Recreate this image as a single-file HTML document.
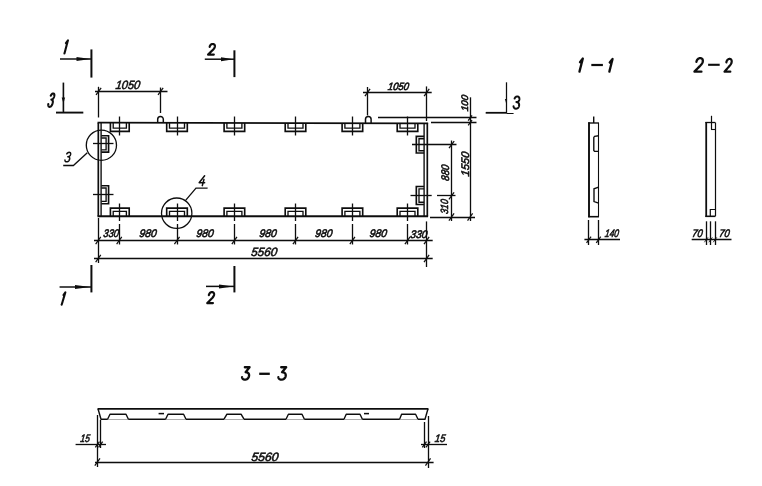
<!DOCTYPE html>
<html><head><meta charset="utf-8"><title>drawing</title>
<style>
html,body{margin:0;padding:0;background:#fff;}
body{width:762px;height:486px;overflow:hidden;}
svg{display:block;}
text{font-family:"Liberation Sans",sans-serif;fill:#111;stroke:#111;stroke-width:0.6px;}
</style></head><body>
<svg width="762" height="486" viewBox="0 0 762 486" font-family="Liberation Sans, sans-serif">
<rect x="0" y="0" width="762" height="486" fill="#fff"/>
<defs><filter id="sf" x="-2%" y="-2%" width="104%" height="104%"><feGaussianBlur stdDeviation="0.32"/></filter></defs>
<g stroke-linecap="butt" filter="url(#sf)">
<line x1="97.5" y1="122.60000000000001" x2="428.1" y2="123.30000000000001" stroke="#111" stroke-width="1.7" />
<line x1="97.5" y1="216.3" x2="428.1" y2="216.3" stroke="#111" stroke-width="1.9" />
<line x1="98.3" y1="122.9" x2="98.3" y2="216.3" stroke="#111" stroke-width="1.7" />
<line x1="101.1" y1="122.9" x2="101.1" y2="216.3" stroke="#111" stroke-width="1.4" />
<line x1="427.3" y1="122.9" x2="427.3" y2="216.3" stroke="#111" stroke-width="1.7" />
<line x1="424.1" y1="122.9" x2="424.1" y2="216.3" stroke="#111" stroke-width="1.4" />
<path d="M110.4,122.9 V131.3 H129.2 V122.9" stroke="#111" stroke-width="1.65" fill="none" />
<path d="M113.2,122.9 V128.1 H126.4 V122.9" stroke="#111" stroke-width="1.35" fill="none" />
<line x1="119.5" y1="116.5" x2="119.5" y2="135.5" stroke="#111" stroke-width="1.3" />
<path d="M110.4,216.3 V208.10000000000002 H129.2 V216.3" stroke="#111" stroke-width="1.65" fill="none" />
<path d="M113.2,216.3 V211.3 H126.4 V216.3" stroke="#111" stroke-width="1.35" fill="none" />
<line x1="119.5" y1="203.5" x2="119.5" y2="221" stroke="#111" stroke-width="1.3" />
<line x1="119.5" y1="224" x2="119.5" y2="244.5" stroke="#111" stroke-width="1.3" />
<path d="M166.7,122.9 V131.3 H187.3 V122.9" stroke="#111" stroke-width="1.65" fill="none" />
<path d="M169.5,122.9 V128.1 H184.5 V122.9" stroke="#111" stroke-width="1.35" fill="none" />
<line x1="177.5" y1="116.5" x2="177.5" y2="135.5" stroke="#111" stroke-width="1.3" />
<path d="M166.7,216.3 V208.10000000000002 H187.3 V216.3" stroke="#111" stroke-width="1.65" fill="none" />
<path d="M169.5,216.3 V211.3 H184.5 V216.3" stroke="#111" stroke-width="1.35" fill="none" />
<line x1="177.5" y1="203.5" x2="177.5" y2="221" stroke="#111" stroke-width="1.3" />
<line x1="177.5" y1="224" x2="177.5" y2="244.5" stroke="#111" stroke-width="1.3" />
<path d="M224.1,122.9 V131.3 H244.7 V122.9" stroke="#111" stroke-width="1.65" fill="none" />
<path d="M226.9,122.9 V128.1 H241.9 V122.9" stroke="#111" stroke-width="1.35" fill="none" />
<line x1="234.5" y1="116.5" x2="234.5" y2="135.5" stroke="#111" stroke-width="1.3" />
<path d="M224.1,216.3 V208.10000000000002 H244.7 V216.3" stroke="#111" stroke-width="1.65" fill="none" />
<path d="M226.9,216.3 V211.3 H241.9 V216.3" stroke="#111" stroke-width="1.35" fill="none" />
<line x1="234.5" y1="203.5" x2="234.5" y2="221" stroke="#111" stroke-width="1.3" />
<line x1="234.5" y1="224" x2="234.5" y2="244.5" stroke="#111" stroke-width="1.3" />
<path d="M285.2,122.9 V131.3 H305.8 V122.9" stroke="#111" stroke-width="1.65" fill="none" />
<path d="M288.0,122.9 V128.1 H303.0 V122.9" stroke="#111" stroke-width="1.35" fill="none" />
<line x1="295.5" y1="116.5" x2="295.5" y2="135.5" stroke="#111" stroke-width="1.3" />
<path d="M285.2,216.3 V208.10000000000002 H305.8 V216.3" stroke="#111" stroke-width="1.65" fill="none" />
<path d="M288.0,216.3 V211.3 H303.0 V216.3" stroke="#111" stroke-width="1.35" fill="none" />
<line x1="295.5" y1="203.5" x2="295.5" y2="221" stroke="#111" stroke-width="1.3" />
<line x1="295.5" y1="224" x2="295.5" y2="244.5" stroke="#111" stroke-width="1.3" />
<path d="M342.1,122.9 V131.3 H362.7 V122.9" stroke="#111" stroke-width="1.65" fill="none" />
<path d="M344.9,122.9 V128.1 H359.9 V122.9" stroke="#111" stroke-width="1.35" fill="none" />
<line x1="352.5" y1="116.5" x2="352.5" y2="135.5" stroke="#111" stroke-width="1.3" />
<path d="M342.1,216.3 V208.10000000000002 H362.7 V216.3" stroke="#111" stroke-width="1.65" fill="none" />
<path d="M344.9,216.3 V211.3 H359.9 V216.3" stroke="#111" stroke-width="1.35" fill="none" />
<line x1="352.5" y1="203.5" x2="352.5" y2="221" stroke="#111" stroke-width="1.3" />
<line x1="352.5" y1="224" x2="352.5" y2="244.5" stroke="#111" stroke-width="1.3" />
<path d="M397.2,122.9 V131.3 H417.8 V122.9" stroke="#111" stroke-width="1.65" fill="none" />
<path d="M400.0,122.9 V128.1 H415.0 V122.9" stroke="#111" stroke-width="1.35" fill="none" />
<line x1="407.5" y1="116.5" x2="407.5" y2="135.5" stroke="#111" stroke-width="1.3" />
<path d="M397.2,216.3 V208.10000000000002 H417.8 V216.3" stroke="#111" stroke-width="1.65" fill="none" />
<path d="M400.0,216.3 V211.3 H415.0 V216.3" stroke="#111" stroke-width="1.35" fill="none" />
<line x1="407.5" y1="203.5" x2="407.5" y2="221" stroke="#111" stroke-width="1.3" />
<line x1="407.5" y1="224" x2="407.5" y2="244.5" stroke="#111" stroke-width="1.3" />
<path d="M101.3,135.7 H108.6 V152.1 H101.3" stroke="#111" stroke-width="1.65" fill="none" />
<path d="M101.3,138.0 H106.1 V149.8 H101.3" stroke="#111" stroke-width="1.35" fill="none" />
<line x1="93" y1="143.5" x2="113.5" y2="143.5" stroke="#111" stroke-width="1.3" />
<path d="M101.3,185.7 H108.6 V203.7 H101.3" stroke="#111" stroke-width="1.65" fill="none" />
<path d="M101.3,188.0 H106.1 V201.4 H101.3" stroke="#111" stroke-width="1.35" fill="none" />
<line x1="93" y1="194.5" x2="113.5" y2="194.5" stroke="#111" stroke-width="1.3" />
<path d="M424,136.4 H416.3 V153.0 H424" stroke="#111" stroke-width="1.65" fill="none" />
<path d="M424,138.7 H419.0 V150.7 H424" stroke="#111" stroke-width="1.35" fill="none" />
<path d="M424,186.5 H416.3 V204.5 H424" stroke="#111" stroke-width="1.65" fill="none" />
<path d="M424,188.8 H419.0 V202.2 H424" stroke="#111" stroke-width="1.35" fill="none" />
<line x1="412" y1="144.5" x2="456.5" y2="144.5" stroke="#111" stroke-width="1.3" />
<line x1="410.5" y1="195.5" x2="431.7" y2="195.5" stroke="#111" stroke-width="1.3" />
<line x1="437" y1="195.5" x2="455.5" y2="195.5" stroke="#111" stroke-width="1.3" />
<path d="M157.7,122.9 V119.30000000000001 A2.8,2.8 0 0 1 163.3,119.30000000000001 V122.9" stroke="#111" stroke-width="1.5" fill="none" />
<path d="M365.5,122.9 V119.30000000000001 A2.8,2.8 0 0 1 371.1,119.30000000000001 V122.9" stroke="#111" stroke-width="1.5" fill="none" />
<line x1="95" y1="91.5" x2="167.5" y2="91.5" stroke="#111" stroke-width="1.3" />
<line x1="98.5" y1="86.8" x2="98.5" y2="117.5" stroke="#111" stroke-width="1.3" />
<line x1="160.5" y1="87.5" x2="160.5" y2="113" stroke="#111" stroke-width="1.3" />
<line x1="96.04" y1="94.92" x2="101.16" y2="87.88" stroke="#111" stroke-width="1.25" />
<line x1="158.04" y1="94.92" x2="163.16" y2="87.88" stroke="#111" stroke-width="1.25" />
<text x="0" y="0" transform="translate(115.2 89.3) skewX(-8)" font-size="12" font-style="italic" font-weight="normal" text-anchor="start" textLength="24.5" lengthAdjust="spacingAndGlyphs">1050</text>
<line x1="363" y1="92.5" x2="431.7" y2="92.5" stroke="#111" stroke-width="1.3" />
<line x1="367.5" y1="87" x2="367.5" y2="115.5" stroke="#111" stroke-width="1.3" />
<line x1="426.5" y1="86.4" x2="426.5" y2="121" stroke="#111" stroke-width="1.3" />
<line x1="364.94" y1="96.02" x2="370.06" y2="88.98" stroke="#111" stroke-width="1.25" />
<line x1="424.14" y1="96.02" x2="429.26" y2="88.98" stroke="#111" stroke-width="1.25" />
<text x="0" y="0" transform="translate(387.4 89.5) skewX(-8)" font-size="10.5" font-style="italic" font-weight="normal" text-anchor="start" textLength="21.2" lengthAdjust="spacingAndGlyphs" style="stroke-width:0.65px">1050</text>
<line x1="378" y1="117.5" x2="476.5" y2="117.5" stroke="#111" stroke-width="1.3" />
<line x1="431" y1="122.5" x2="476.5" y2="122.5" stroke="#111" stroke-width="1.3" />
<line x1="470.5" y1="97.3" x2="470.5" y2="221" stroke="#111" stroke-width="1.3" />
<line x1="468.18" y1="120.64" x2="472.02" y2="115.36" stroke="#111" stroke-width="1.25" />
<line x1="468.18" y1="125.44" x2="472.02" y2="120.16" stroke="#111" stroke-width="1.25" />
<line x1="467.54" y1="220.52" x2="472.66" y2="213.48" stroke="#111" stroke-width="1.25" />
<text x="0" y="0" transform="translate(468.4 111.6) rotate(-90) skewX(-8)" font-size="9.5" font-style="italic" font-weight="normal" text-anchor="start" textLength="16.4" lengthAdjust="spacingAndGlyphs">100</text>
<line x1="451.5" y1="140.5" x2="451.5" y2="221" stroke="#111" stroke-width="1.3" />
<line x1="449.04" y1="148.12" x2="454.16" y2="141.08" stroke="#111" stroke-width="1.25" />
<line x1="448.94" y1="199.42" x2="454.06" y2="192.38" stroke="#111" stroke-width="1.25" />
<line x1="448.94" y1="220.52" x2="454.06" y2="213.48" stroke="#111" stroke-width="1.25" />
<text x="0" y="0" transform="translate(449.0 181.2) rotate(-90) skewX(-8)" font-size="11" font-style="italic" font-weight="normal" text-anchor="start" textLength="16" lengthAdjust="spacingAndGlyphs">880</text>
<text x="0" y="0" transform="translate(448.4 214.2) rotate(-90) skewX(-8)" font-size="10.5" font-style="italic" font-weight="normal" text-anchor="start" textLength="14.4" lengthAdjust="spacingAndGlyphs">310</text>
<text x="0" y="0" transform="translate(468.5 176.7) rotate(-90) skewX(-8)" font-size="11" font-style="italic" font-weight="normal" text-anchor="start" textLength="24.5" lengthAdjust="spacingAndGlyphs">1550</text>
<line x1="430" y1="217.5" x2="475" y2="217.5" stroke="#111" stroke-width="1.3" />
<line x1="94" y1="240.5" x2="432.7" y2="240.5" stroke="#111" stroke-width="1.3" />
<line x1="94" y1="258.5" x2="432.7" y2="258.5" stroke="#111" stroke-width="1.3" />
<line x1="98.5" y1="218" x2="98.5" y2="263" stroke="#111" stroke-width="1.3" />
<line x1="426.5" y1="221.4" x2="426.5" y2="267" stroke="#111" stroke-width="1.3" />
<line x1="95.64" y1="244.02" x2="100.76" y2="236.98" stroke="#111" stroke-width="1.25" />
<line x1="116.64" y1="244.02" x2="121.76" y2="236.98" stroke="#111" stroke-width="1.25" />
<line x1="174.44" y1="244.02" x2="179.56" y2="236.98" stroke="#111" stroke-width="1.25" />
<line x1="231.84" y1="244.02" x2="236.96" y2="236.98" stroke="#111" stroke-width="1.25" />
<line x1="292.94" y1="244.02" x2="298.06" y2="236.98" stroke="#111" stroke-width="1.25" />
<line x1="349.84" y1="244.02" x2="354.96" y2="236.98" stroke="#111" stroke-width="1.25" />
<line x1="404.94" y1="244.02" x2="410.06" y2="236.98" stroke="#111" stroke-width="1.25" />
<line x1="424.04" y1="244.02" x2="429.16" y2="236.98" stroke="#111" stroke-width="1.25" />
<line x1="95.64" y1="262.02" x2="100.76" y2="254.98" stroke="#111" stroke-width="1.25" />
<line x1="424.04" y1="262.02" x2="429.16" y2="254.98" stroke="#111" stroke-width="1.25" />
<text x="0" y="0" transform="translate(103 237.0) skewX(-8)" font-size="11" font-style="italic" font-weight="normal" text-anchor="start" textLength="15.5" lengthAdjust="spacingAndGlyphs">330</text>
<text x="0" y="0" transform="translate(410 237.6) skewX(-8)" font-size="11" font-style="italic" font-weight="normal" text-anchor="start" textLength="17" lengthAdjust="spacingAndGlyphs">330</text>
<text x="0" y="0" transform="translate(139 237.0) skewX(-8)" font-size="11" font-style="italic" font-weight="normal" text-anchor="start" textLength="17.3" lengthAdjust="spacingAndGlyphs">980</text>
<text x="0" y="0" transform="translate(196 237.0) skewX(-8)" font-size="11" font-style="italic" font-weight="normal" text-anchor="start" textLength="17.3" lengthAdjust="spacingAndGlyphs">980</text>
<text x="0" y="0" transform="translate(259 237.0) skewX(-8)" font-size="11" font-style="italic" font-weight="normal" text-anchor="start" textLength="17.3" lengthAdjust="spacingAndGlyphs">980</text>
<text x="0" y="0" transform="translate(314.7 237.0) skewX(-8)" font-size="11" font-style="italic" font-weight="normal" text-anchor="start" textLength="17.3" lengthAdjust="spacingAndGlyphs">980</text>
<text x="0" y="0" transform="translate(369.3 237.0) skewX(-8)" font-size="11" font-style="italic" font-weight="normal" text-anchor="start" textLength="17.3" lengthAdjust="spacingAndGlyphs">980</text>
<text x="0" y="0" transform="translate(250.8 256.4) skewX(-8)" font-size="12" font-style="italic" font-weight="normal" text-anchor="start" textLength="26" lengthAdjust="spacingAndGlyphs">5560</text>
<circle cx="101.4" cy="145.2" r="15.1" fill="none" stroke="#111" stroke-width="1.3"/>
<circle cx="176.7" cy="213.2" r="15.2" fill="none" stroke="#111" stroke-width="1.3"/>
<path d="M87.3,152.8 L73.4,165.5 H63.2" stroke="#111" stroke-width="1.3" fill="none" />
<path d="M66.78,153.97 L66.92,153.73 L67.08,153.52 L67.23,153.32 L67.40,153.15 L67.56,152.99 L67.73,152.85 L67.91,152.73 L68.09,152.63 L68.27,152.54 L68.45,152.47 L68.64,152.42 L68.82,152.38 L69.01,152.36 L69.20,152.35 L69.45,152.36 L69.67,152.40 L69.87,152.46 L70.05,152.55 L70.20,152.66 L70.34,152.79 L70.45,152.94 L70.53,153.12 L70.60,153.31 L70.64,153.52 L70.65,153.75 L70.64,154.00 L70.60,154.26 L70.54,154.53 L70.45,154.81 L70.35,155.07 L70.22,155.31 L70.08,155.53 L69.92,155.74 L69.74,155.92 L69.55,156.09 L69.34,156.24 L69.12,156.37 L68.88,156.48 L68.63,156.57 L68.37,156.64 L68.10,156.69 L67.81,156.72 L68.12,156.75 L68.41,156.81 L68.67,156.90 L68.90,157.00 L69.10,157.14 L69.27,157.29 L69.41,157.47 L69.52,157.67 L69.61,157.89 L69.66,158.13 L69.68,158.39 L69.67,158.67 L69.63,158.97 L69.56,159.28 L69.46,159.62 L69.33,159.94 L69.18,160.23 L69.02,160.50 L68.83,160.75 L68.63,160.97 L68.42,161.17 L68.19,161.35 L67.95,161.50 L67.71,161.62 L67.45,161.72 L67.19,161.79 L66.93,161.84 L66.66,161.85 L66.43,161.84 L66.22,161.81 L66.02,161.76 L65.84,161.69 L65.68,161.60 L65.53,161.49 L65.40,161.36 L65.29,161.22 L65.19,161.05 L65.11,160.87 L65.05,160.66 L65.00,160.44 L64.97,160.21 L64.95,159.95" fill="none" stroke="#111" stroke-width="1.5" stroke-linecap="round" stroke-linejoin="round"/>
<path d="M185.8,200.2 L196,188.2 H207.6" stroke="#111" stroke-width="1.3" fill="none" />
<path d="M204.62,175.75 L199.15,182.68 L204.65,182.68 M203.95,179.51 L202.31,185.65" fill="none" stroke="#111" stroke-width="1.5" stroke-linecap="round" stroke-linejoin="round"/>
<line x1="91.4" y1="49.4" x2="91.4" y2="77.6" stroke="#111" stroke-width="2.0" />
<line x1="60" y1="59" x2="91.4" y2="59" stroke="#111" stroke-width="1.5" />
<polygon points="76.5,57.0 90.5,59 76.5,61.0" fill="#111"/>
<path d="M65.95,43.04 L67.95,40.25 L64.45,53.55" fill="none" stroke="#111" stroke-width="2.1" stroke-linecap="round" stroke-linejoin="round"/>
<line x1="234.4" y1="50.3" x2="234.4" y2="77.1" stroke="#111" stroke-width="2.0" />
<line x1="204.8" y1="59.2" x2="234.4" y2="59.2" stroke="#111" stroke-width="1.5" />
<polygon points="221,57.2 233.5,59.2 221,61.2" fill="#111"/>
<path d="M209.64,46.86 L209.75,46.47 L209.87,46.10 L210.02,45.77 L210.19,45.46 L210.38,45.18 L210.59,44.93 L210.81,44.72 L211.05,44.53 L211.31,44.37 L211.57,44.23 L211.85,44.13 L212.14,44.06 L212.44,44.01 L212.74,44.00 L213.05,44.02 L213.35,44.06 L213.62,44.14 L213.87,44.25 L214.10,44.39 L214.30,44.55 L214.47,44.74 L214.62,44.96 L214.74,45.20 L214.82,45.47 L214.88,45.76 L214.90,46.07 L214.89,46.40 L214.84,46.76 L214.73,47.19 L214.56,47.61 L214.32,48.05 L214.02,48.49 L213.66,48.94 L213.25,49.42 L212.78,49.92 L212.25,50.46 L211.68,51.03 L211.05,51.64 L210.38,52.29 L209.66,53.00 L208.90,53.77 L208.10,54.60 L213.82,54.60" fill="none" stroke="#111" stroke-width="2.2" stroke-linecap="round" stroke-linejoin="round"/>
<line x1="63.4" y1="82.6" x2="63.4" y2="112.7" stroke="#111" stroke-width="1.6" />
<line x1="56" y1="112.6" x2="83.3" y2="112.6" stroke="#111" stroke-width="1.9" />
<polygon points="61.699999999999996,97.5 63.4,103.5 65.1,97.5" fill="#111"/>
<path d="M50.74,95.73 L50.90,95.40 L51.07,95.10 L51.24,94.82 L51.42,94.57 L51.59,94.35 L51.77,94.16 L51.94,93.99 L52.12,93.84 L52.30,93.72 L52.48,93.62 L52.65,93.54 L52.83,93.49 L53.01,93.46 L53.18,93.45 L53.41,93.47 L53.60,93.52 L53.78,93.61 L53.93,93.73 L54.06,93.89 L54.17,94.07 L54.25,94.29 L54.31,94.53 L54.34,94.80 L54.35,95.10 L54.33,95.42 L54.29,95.77 L54.22,96.14 L54.13,96.53 L54.01,96.92 L53.88,97.29 L53.73,97.63 L53.57,97.94 L53.40,98.23 L53.21,98.49 L53.01,98.73 L52.80,98.94 L52.58,99.12 L52.35,99.27 L52.10,99.40 L51.85,99.50 L51.59,99.57 L51.33,99.61 L51.61,99.66 L51.87,99.74 L52.09,99.86 L52.29,100.01 L52.46,100.20 L52.60,100.42 L52.70,100.67 L52.78,100.95 L52.83,101.26 L52.85,101.60 L52.83,101.97 L52.79,102.36 L52.71,102.79 L52.60,103.23 L52.46,103.71 L52.31,104.15 L52.13,104.56 L51.94,104.95 L51.74,105.30 L51.53,105.61 L51.30,105.90 L51.07,106.14 L50.83,106.36 L50.59,106.53 L50.34,106.67 L50.09,106.77 L49.84,106.83 L49.59,106.85 L49.38,106.84 L49.19,106.79 L49.02,106.72 L48.86,106.62 L48.72,106.50 L48.60,106.34 L48.50,106.16 L48.42,105.96 L48.35,105.72 L48.30,105.46 L48.27,105.18 L48.25,104.87 L48.25,104.53 L48.27,104.17" fill="none" stroke="#111" stroke-width="2.1" stroke-linecap="round" stroke-linejoin="round"/>
<line x1="506.5" y1="82.3" x2="506.5" y2="113.3" stroke="#111" stroke-width="1.25" />
<line x1="485.7" y1="112.8" x2="506.5" y2="112.8" stroke="#111" stroke-width="1.8" />
<line x1="506.5" y1="113.5" x2="513.6" y2="113.5" stroke="#111" stroke-width="1.0" />
<polygon points="504.9,99 506.0,103 507.1,99" fill="#111"/>
<path d="M514.58,98.57 L514.72,98.27 L514.87,98.00 L515.03,97.75 L515.19,97.52 L515.37,97.32 L515.56,97.14 L515.75,96.99 L515.95,96.86 L516.16,96.74 L516.37,96.66 L516.59,96.59 L516.82,96.54 L517.05,96.51 L517.28,96.50 L517.59,96.52 L517.87,96.57 L518.13,96.65 L518.37,96.76 L518.59,96.90 L518.78,97.07 L518.95,97.26 L519.09,97.48 L519.21,97.73 L519.30,98.00 L519.36,98.30 L519.39,98.61 L519.40,98.95 L519.38,99.31 L519.32,99.66 L519.24,99.99 L519.14,100.30 L519.00,100.59 L518.84,100.85 L518.66,101.09 L518.45,101.30 L518.22,101.49 L517.97,101.66 L517.70,101.80 L517.41,101.92 L517.10,102.01 L516.77,102.07 L516.42,102.11 L516.81,102.15 L517.18,102.23 L517.52,102.34 L517.82,102.48 L518.10,102.65 L518.34,102.85 L518.56,103.07 L518.74,103.33 L518.88,103.61 L519.00,103.92 L519.07,104.26 L519.12,104.62 L519.13,105.00 L519.10,105.41 L519.04,105.84 L518.94,106.24 L518.82,106.62 L518.67,106.97 L518.49,107.28 L518.28,107.57 L518.06,107.83 L517.81,108.06 L517.54,108.25 L517.26,108.41 L516.96,108.54 L516.65,108.63 L516.33,108.68 L516.00,108.70 L515.71,108.69 L515.44,108.65 L515.19,108.58 L514.95,108.49 L514.73,108.38 L514.53,108.24 L514.34,108.07 L514.17,107.89 L514.02,107.67 L513.88,107.44 L513.76,107.18 L513.66,106.89 L513.57,106.59 L513.50,106.26" fill="none" stroke="#111" stroke-width="2.0" stroke-linecap="round" stroke-linejoin="round"/>
<line x1="91.4" y1="265" x2="91.4" y2="292.4" stroke="#111" stroke-width="2.0" />
<line x1="59.6" y1="287" x2="91.4" y2="287" stroke="#111" stroke-width="1.5" />
<polygon points="75,285.0 90.5,287 75,289.0" fill="#111"/>
<path d="M63.51,295.03 L65.35,292.45 L61.65,304.75" fill="none" stroke="#111" stroke-width="2.1" stroke-linecap="round" stroke-linejoin="round"/>
<line x1="234.4" y1="266" x2="234.4" y2="292.4" stroke="#111" stroke-width="2.0" />
<line x1="206" y1="286.4" x2="234.4" y2="286.4" stroke="#111" stroke-width="1.5" />
<polygon points="219,284.4 233.5,286.4 219,288.4" fill="#111"/>
<path d="M208.89,295.07 L209.00,294.66 L209.13,294.28 L209.28,293.93 L209.45,293.62 L209.64,293.33 L209.85,293.07 L210.07,292.84 L210.31,292.65 L210.56,292.48 L210.83,292.34 L211.10,292.24 L211.39,292.16 L211.68,292.12 L211.98,292.10 L212.29,292.12 L212.58,292.17 L212.85,292.25 L213.10,292.36 L213.32,292.50 L213.52,292.67 L213.69,292.87 L213.83,293.10 L213.94,293.35 L214.03,293.62 L214.08,293.92 L214.10,294.25 L214.09,294.59 L214.04,294.96 L213.93,295.41 L213.75,295.85 L213.51,296.30 L213.21,296.76 L212.85,297.23 L212.44,297.73 L211.97,298.25 L211.44,298.80 L210.87,299.39 L210.25,300.02 L209.58,300.71 L208.86,301.44 L208.10,302.24 L207.30,303.10 L212.96,303.10" fill="none" stroke="#111" stroke-width="2.2" stroke-linecap="round" stroke-linejoin="round"/>
<path d="M579.97,62.22 L582.85,58.55 L579.45,71.65" fill="none" stroke="#111" stroke-width="2.3" stroke-linecap="round" stroke-linejoin="round"/>
<line x1="591.3" y1="65" x2="602.9" y2="65" stroke="#111" stroke-width="2.2" />
<path d="M609.76,62.51 L612.55,58.95 L609.35,71.65" fill="none" stroke="#111" stroke-width="2.3" stroke-linecap="round" stroke-linejoin="round"/>
<path d="M696.41,61.79 L696.54,61.29 L696.70,60.83 L696.88,60.40 L697.09,60.01 L697.33,59.66 L697.58,59.34 L697.86,59.06 L698.15,58.82 L698.47,58.61 L698.79,58.45 L699.13,58.32 L699.49,58.22 L699.85,58.17 L700.22,58.15 L700.61,58.17 L700.97,58.23 L701.30,58.33 L701.61,58.47 L701.88,58.64 L702.13,58.85 L702.34,59.09 L702.51,59.37 L702.66,59.68 L702.76,60.02 L702.82,60.39 L702.85,60.79 L702.83,61.21 L702.77,61.66 L702.64,62.21 L702.42,62.75 L702.12,63.30 L701.75,63.86 L701.31,64.45 L700.80,65.05 L700.22,65.69 L699.57,66.37 L698.86,67.10 L698.09,67.87 L697.26,68.71 L696.38,69.62 L695.44,70.59 L694.45,71.65 L701.45,71.65" fill="none" stroke="#111" stroke-width="2.3" stroke-linecap="round" stroke-linejoin="round"/>
<line x1="708.1" y1="64.8" x2="719.7" y2="64.8" stroke="#111" stroke-width="2.1" />
<path d="M726.33,62.36 L726.45,61.88 L726.59,61.44 L726.75,61.03 L726.94,60.66 L727.14,60.33 L727.36,60.03 L727.59,59.76 L727.84,59.53 L728.11,59.34 L728.38,59.18 L728.67,59.06 L728.96,58.97 L729.26,58.92 L729.57,58.90 L729.89,58.92 L730.19,58.98 L730.47,59.07 L730.72,59.20 L730.94,59.37 L731.14,59.57 L731.31,59.80 L731.45,60.06 L731.56,60.35 L731.64,60.67 L731.69,61.02 L731.70,61.40 L731.68,61.80 L731.62,62.23 L731.49,62.75 L731.30,63.26 L731.04,63.79 L730.73,64.32 L730.35,64.87 L729.91,65.45 L729.41,66.05 L728.86,66.70 L728.26,67.38 L727.60,68.12 L726.90,68.91 L726.14,69.77 L725.34,70.70 L724.50,71.70 L730.31,71.70" fill="none" stroke="#111" stroke-width="2.2" stroke-linecap="round" stroke-linejoin="round"/>
<path d="M244.83,367.25 L249.55,367.25 L245.59,372.21 L246.11,372.23 L246.58,372.30 L247.02,372.41 L247.43,372.56 L247.79,372.75 L248.11,372.98 L248.39,373.25 L248.63,373.55 L248.81,373.89 L248.96,374.26 L249.05,374.67 L249.09,375.10 L249.09,375.56 L249.02,376.05 L248.91,376.54 L248.76,377.00 L248.57,377.41 L248.35,377.80 L248.09,378.15 L247.81,378.46 L247.50,378.74 L247.17,378.98 L246.82,379.18 L246.45,379.35 L246.07,379.48 L245.69,379.57 L245.29,379.63 L244.90,379.65 L244.56,379.64 L244.24,379.60 L243.94,379.53 L243.66,379.44 L243.40,379.32 L243.16,379.18 L242.94,379.01 L242.75,378.82 L242.58,378.61 L242.43,378.37 L242.30,378.10 L242.19,377.81 L242.11,377.50 L242.05,377.17" fill="none" stroke="#111" stroke-width="2.3" stroke-linecap="round" stroke-linejoin="round"/>
<line x1="259.2" y1="373.8" x2="269.8" y2="373.8" stroke="#111" stroke-width="2.3" />
<path d="M281.18,367.25 L286.15,367.25 L282.03,372.21 L282.57,372.23 L283.07,372.30 L283.54,372.41 L283.96,372.56 L284.35,372.75 L284.69,372.98 L284.98,373.25 L285.23,373.55 L285.44,373.89 L285.59,374.26 L285.69,374.67 L285.74,375.10 L285.74,375.56 L285.68,376.05 L285.57,376.54 L285.41,377.00 L285.22,377.41 L284.98,377.80 L284.72,378.15 L284.42,378.46 L284.10,378.74 L283.75,378.98 L283.39,379.18 L283.00,379.35 L282.61,379.48 L282.20,379.57 L281.79,379.63 L281.37,379.65 L281.01,379.64 L280.67,379.60 L280.36,379.53 L280.06,379.44 L279.79,379.32 L279.54,379.18 L279.31,379.01 L279.10,378.82 L278.92,378.61 L278.76,378.37 L278.62,378.10 L278.51,377.81 L278.42,377.50 L278.35,377.17" fill="none" stroke="#111" stroke-width="2.3" stroke-linecap="round" stroke-linejoin="round"/>
<line x1="589" y1="122.2" x2="589" y2="217.3" stroke="#111" stroke-width="1.9" />
<line x1="598.5" y1="123" x2="598.5" y2="216.7" stroke="#111" stroke-width="1.1" />
<line x1="588.2" y1="123" x2="599" y2="123" stroke="#111" stroke-width="1.4" />
<line x1="588.2" y1="216.7" x2="599" y2="216.7" stroke="#111" stroke-width="1.6" />
<line x1="593.7" y1="116.5" x2="593.7" y2="123" stroke="#111" stroke-width="1.4" />
<path d="M598.6,135.8 L594.6,136.4 L593.8,137.4 V150.4 L594.6,151.4 H598.6" stroke="#111" stroke-width="1.4" fill="none" />
<path d="M598.6,187.2 L594,188.8 V201.6 L598.6,203.1" stroke="#111" stroke-width="1.4" fill="none" />
<line x1="584.4" y1="239.5" x2="620" y2="239.5" stroke="#111" stroke-width="1.3" />
<line x1="588.5" y1="220" x2="588.5" y2="245" stroke="#111" stroke-width="1.3" />
<line x1="598.5" y1="220" x2="598.5" y2="245" stroke="#111" stroke-width="1.3" />
<line x1="586.56" y1="242.88" x2="591.04" y2="236.72" stroke="#111" stroke-width="1.25" />
<line x1="596.26" y1="242.88" x2="600.74" y2="236.72" stroke="#111" stroke-width="1.25" />
<text x="0" y="0" transform="translate(604.5 237.2) skewX(-8)" font-size="11" font-style="italic" font-weight="normal" text-anchor="start" textLength="14" lengthAdjust="spacingAndGlyphs">140</text>
<line x1="706.2" y1="122" x2="706.2" y2="217" stroke="#111" stroke-width="1.8" />
<line x1="715.5" y1="122.6" x2="715.5" y2="216.3" stroke="#111" stroke-width="1.2" />
<line x1="705.4" y1="122.5" x2="715.4" y2="122.5" stroke="#111" stroke-width="1.3" />
<line x1="705.4" y1="216.3" x2="715.4" y2="216.3" stroke="#111" stroke-width="1.6" />
<line x1="711.5" y1="115.8" x2="711.5" y2="129.4" stroke="#111" stroke-width="1.2" />
<line x1="711" y1="129.5" x2="715" y2="129.5" stroke="#111" stroke-width="1.1" />
<path d="M715,209.5 H710.3 V216.3" stroke="#111" stroke-width="1.2" fill="none" />
<line x1="691.7" y1="239.5" x2="731.5" y2="239.5" stroke="#111" stroke-width="1.3" />
<line x1="706.5" y1="221.3" x2="706.5" y2="245" stroke="#111" stroke-width="1.3" />
<line x1="704.44" y1="242.22" x2="707.96" y2="237.38" stroke="#111" stroke-width="0.9" />
<line x1="710.5" y1="221.3" x2="710.5" y2="245" stroke="#111" stroke-width="1.3" />
<line x1="708.84" y1="242.22" x2="712.36" y2="237.38" stroke="#111" stroke-width="0.9" />
<line x1="715.5" y1="221.3" x2="715.5" y2="245" stroke="#111" stroke-width="1.3" />
<line x1="713.24" y1="242.22" x2="716.76" y2="237.38" stroke="#111" stroke-width="0.9" />
<text x="0" y="0" transform="translate(691.7 237.2) skewX(-8)" font-size="11" font-style="italic" font-weight="normal" text-anchor="start" textLength="10.5" lengthAdjust="spacingAndGlyphs">70</text>
<text x="0" y="0" transform="translate(718.8 237.2) skewX(-8)" font-size="11" font-style="italic" font-weight="normal" text-anchor="start" textLength="10.5" lengthAdjust="spacingAndGlyphs">70</text>
<line x1="97.6" y1="408.8" x2="428.4" y2="408.8" stroke="#111" stroke-width="1.7" />
<path d="M98,408.8 L101,419.2 L107.6,419.2 L110,414.3 L126,414.3 L128.4,419.2 L165.6,419.2 L168,414.3 L183.6,414.3 L186,419.2 L224,419.2 L226.8,414.3 L241.2,414.3 L244,419.2 L286,419.2 L288.4,414.3 L302,414.3 L304.4,419.2 L344,419.2 L346.2,414.3 L360,414.3 L362.4,419.2 L399.6,419.2 L401.6,414.3 L415.6,414.3 L418,419.2 L425,419.2 L428,408.8" stroke="#111" stroke-width="1.4" fill="none" stroke-linejoin="round"/>
<line x1="107.6" y1="419.5" x2="128.4" y2="419.5" stroke="#8a8a8a" stroke-width="0.7" />
<line x1="165.6" y1="419.5" x2="186" y2="419.5" stroke="#8a8a8a" stroke-width="0.7" />
<line x1="224" y1="419.5" x2="244" y2="419.5" stroke="#8a8a8a" stroke-width="0.7" />
<line x1="286" y1="419.5" x2="304.4" y2="419.5" stroke="#8a8a8a" stroke-width="0.7" />
<line x1="344" y1="419.5" x2="362.4" y2="419.5" stroke="#8a8a8a" stroke-width="0.7" />
<line x1="399.6" y1="419.5" x2="418" y2="419.5" stroke="#8a8a8a" stroke-width="0.7" />
<line x1="158.6" y1="413.6" x2="164" y2="413.6" stroke="#111" stroke-width="1.5" />
<line x1="364" y1="413.6" x2="369" y2="413.6" stroke="#111" stroke-width="1.5" />
<line x1="97.5" y1="415" x2="97.5" y2="467" stroke="#111" stroke-width="1.3" />
<line x1="100.5" y1="420" x2="100.5" y2="448" stroke="#111" stroke-width="1.3" />
<line x1="428.5" y1="416" x2="428.5" y2="468" stroke="#111" stroke-width="1.3" />
<line x1="424.5" y1="422" x2="424.5" y2="448" stroke="#111" stroke-width="1.3" />
<line x1="75.6" y1="444.5" x2="106" y2="444.5" stroke="#111" stroke-width="1.3" />
<line x1="421" y1="444.5" x2="447" y2="444.5" stroke="#111" stroke-width="1.3" />
<line x1="95" y1="462.5" x2="433.6" y2="462.5" stroke="#111" stroke-width="1.3" />
<line x1="95.32" y1="447.26" x2="99.48" y2="441.54" stroke="#111" stroke-width="1.25" />
<line x1="98.52" y1="447.26" x2="102.68" y2="441.54" stroke="#111" stroke-width="1.25" />
<line x1="425.92" y1="447.26" x2="430.08" y2="441.54" stroke="#111" stroke-width="1.25" />
<line x1="422.32" y1="447.26" x2="426.48" y2="441.54" stroke="#111" stroke-width="1.25" />
<line x1="94.84" y1="465.52" x2="99.96" y2="458.48" stroke="#111" stroke-width="1.25" />
<line x1="425.44" y1="465.52" x2="430.56" y2="458.48" stroke="#111" stroke-width="1.25" />
<text x="0" y="0" transform="translate(80 441.8) skewX(-8)" font-size="11" font-style="italic" font-weight="normal" text-anchor="start" textLength="9.5" lengthAdjust="spacingAndGlyphs">15</text>
<text x="0" y="0" transform="translate(434.5 442) skewX(-8)" font-size="11" font-style="italic" font-weight="normal" text-anchor="start" textLength="10.5" lengthAdjust="spacingAndGlyphs">15</text>
<text x="0" y="0" transform="translate(251 460.5) skewX(-8)" font-size="12" font-style="italic" font-weight="normal" text-anchor="start" textLength="27" lengthAdjust="spacingAndGlyphs">5560</text>
</g>
</svg>
</body></html>
